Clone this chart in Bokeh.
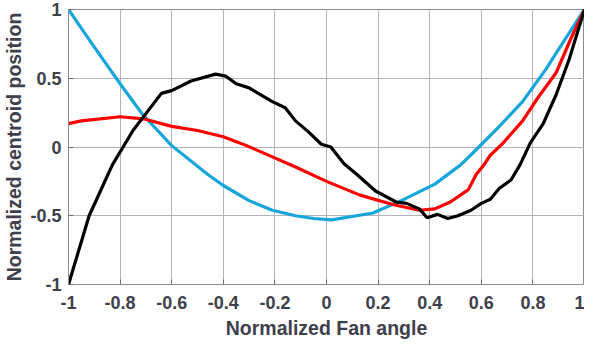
from bokeh.plotting import figure
from bokeh.models import Range1d, FixedTicker
from bokeh.embed import file_html
from bokeh.resources import INLINE

# Data
cyan_x = [-1.0, -0.916, -0.80, -0.714, -0.60, -0.46, -0.40, -0.30, -0.21, -0.12, -0.05, 0.02,
          0.18, 0.29, 0.42, 0.52, 0.58, 0.67, 0.76, 0.85, 0.92, 1.0]
cyan_y = [1.0, 0.77, 0.46, 0.24, 0.01, -0.20, -0.28, -0.39, -0.46, -0.50, -0.52, -0.53,
          -0.48, -0.39, -0.27, -0.13, -0.02, 0.15, 0.33, 0.565, 0.77, 1.0]

red_x = [-1.0, -0.95, -0.80, -0.71, -0.60, -0.50, -0.40, -0.31, -0.12, 0.0, 0.13, 0.26, 0.36,
         0.42, 0.48, 0.55, 0.58, 0.61, 0.635, 0.685, 0.76, 0.82, 0.89, 0.95, 1.0]
red_y = [0.17, 0.19, 0.22, 0.205, 0.15, 0.12, 0.075, 0.01, -0.145, -0.25, -0.35, -0.42, -0.46,
         -0.45, -0.40, -0.31, -0.20, -0.13, -0.06, 0.03, 0.19, 0.36, 0.54, 0.80, 1.0]

black_x = [-1.0, -0.92, -0.83, -0.75, -0.64, -0.60, -0.525, -0.43, -0.39, -0.35, -0.30, -0.21,
           -0.16, -0.12, -0.07, -0.02, 0.017, 0.067, 0.118, 0.19, 0.27, 0.31, 0.36, 0.39, 0.43,
           0.47, 0.51, 0.56, 0.60, 0.635, 0.67, 0.715, 0.75, 0.79, 0.84, 0.89, 0.94, 1.0]
black_y = [-1.0, -0.50, -0.13, 0.12, 0.39, 0.41, 0.48, 0.53, 0.515, 0.46, 0.43, 0.33,
           0.285, 0.19, 0.11, 0.02, 0.0, -0.12, -0.20, -0.32, -0.40, -0.41, -0.45, -0.515, -0.49,
           -0.52, -0.50, -0.46, -0.41, -0.38, -0.30, -0.24, -0.13, 0.03, 0.17, 0.38, 0.635, 1.0]

x_ticks = [-1.0, -0.8, -0.6, -0.4, -0.2, 0.0, 0.2, 0.4, 0.6, 0.8, 1.0]
x_tick_labels = ["-1", "-0.8", "-0.6", "-0.4", "-0.2", "0", "0.2", "0.4", "0.6", "0.8", "1"]
y_ticks = [-1.0, -0.5, 0.0, 0.5, 1.0]
y_tick_labels = ["-1", "-0.5", "0", "0.5", "1"]

x_label = "Normalized Fan angle"
y_label = "Normalized centroid position"

TXT = "#40404c"
FONT = "Liberation Sans"

p = figure(width=584, height=341, output_backend="svg", toolbar_location=None,
           x_range=Range1d(-1, 1), y_range=Range1d(-1, 1),
           min_border_left=58, min_border_right=0, min_border_top=9, min_border_bottom=50)

p.line(cyan_x, cyan_y, line_color="#16a6dc", line_width=3.2)
p.line(red_x, red_y, line_color="#ff0000", line_width=3.2)
p.line(black_x, black_y, line_color="#000000", line_width=3.2)

p.xaxis.ticker = FixedTicker(ticks=x_ticks)
p.yaxis.ticker = FixedTicker(ticks=y_ticks)
p.xaxis.major_label_overrides = {t: l for t, l in zip(x_ticks, x_tick_labels)}
p.yaxis.major_label_overrides = {t: l for t, l in zip(y_ticks, y_tick_labels)}
p.xaxis.axis_label = x_label
p.yaxis.axis_label = y_label

for ax in (p.xaxis[0], p.yaxis[0]):
    ax.major_label_text_font = FONT
    ax.major_label_text_font_style = "bold"
    ax.major_label_text_font_size = "18px"
    ax.major_label_text_color = TXT
    ax.axis_label_text_font = FONT
    ax.axis_label_text_font_style = "bold"
    ax.axis_label_text_font_size = "19.5px"
    ax.axis_label_text_color = TXT
    ax.axis_line_color = "#8c8c94"
    ax.major_tick_in = 5
    ax.major_tick_out = 0
    ax.minor_tick_line_color = None
    ax.major_tick_line_color = "#6c6c74"

p.xaxis.major_label_standoff = 11
p.xaxis.axis_label_standoff = 5
p.yaxis.major_label_standoff = 7
p.yaxis.axis_label_standoff = 2

p.grid.grid_line_color = "#b4b4bc"
p.grid.grid_line_width = 1
p.outline_line_color = "#8c8c94"
p.outline_line_width = 1
p.background_fill_color = "white"
p.border_fill_color = "white"

open("out.html", "w").write(file_html(p, INLINE))
